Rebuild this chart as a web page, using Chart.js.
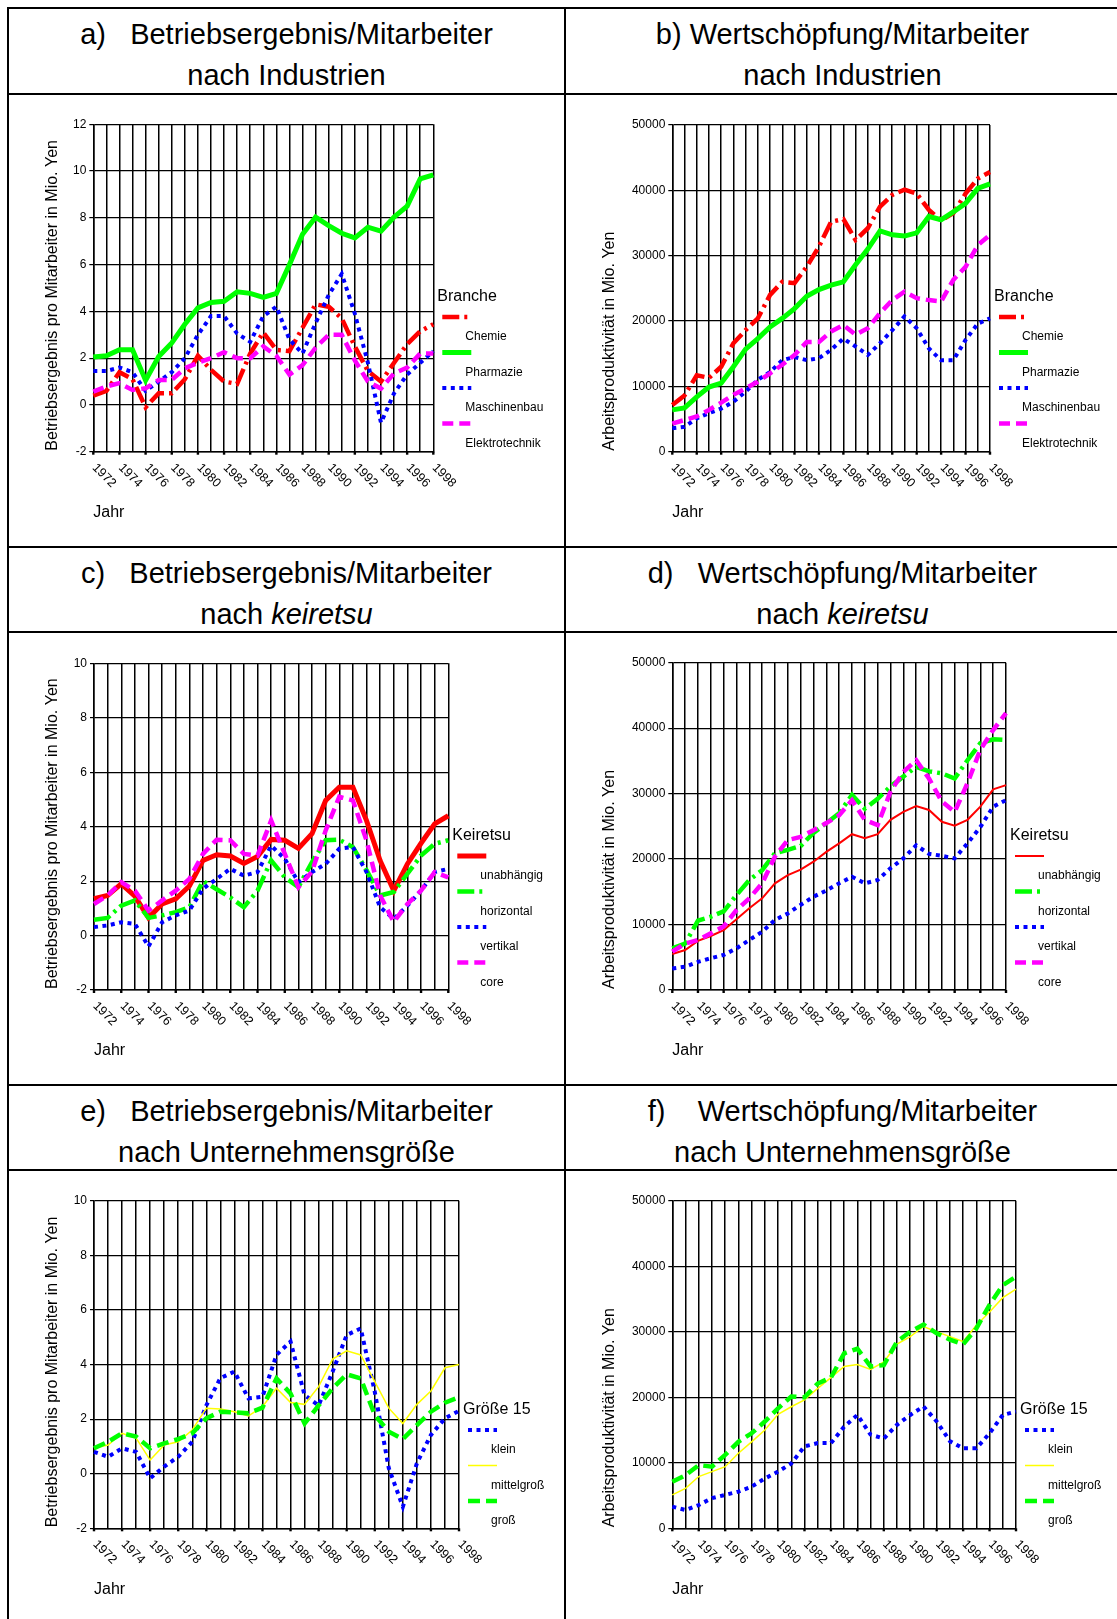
<!DOCTYPE html>
<html>
<head>
<meta charset="utf-8">
<script src="https://cdn.jsdelivr.net/npm/chart.js@4/dist/chart.umd.min.js"></script>
<style>
  body { margin: 0; background: #fff; }
  #page { position: relative; width: 1117px; height: 1619px; overflow: hidden; font-family: "Liberation Sans", Arial, sans-serif; color: #000; }
  .hl { position: absolute; left: 7px; width: 1115px; height: 2px; background: #000; }
  .vl { position: absolute; top: 7px; height: 1620px; width: 2px; background: #000; }
  .ttl { position: absolute; font-size: 29px; line-height: 34px; text-align: center; white-space: pre; transform: translateY(-50%); }
  canvas { position: absolute; }
</style>
</head>
<body>
<div id="page">
  <div class="hl" style="top:7px"></div>
  <div class="hl" style="top:93px"></div>
  <div class="hl" style="top:546px"></div>
  <div class="hl" style="top:631px"></div>
  <div class="hl" style="top:1084px"></div>
  <div class="hl" style="top:1169px"></div>
  <div class="vl" style="left:7px"></div>
  <div class="vl" style="left:564px"></div>

  <div class="ttl" style="left:8px;width:557px;top:34px">a)   Betriebsergebnis/Mitarbeiter</div>
  <div class="ttl" style="left:8px;width:557px;top:75px">nach Industrien</div>
  <div class="ttl" style="left:565px;width:555px;top:34px">b) Wertschöpfung/Mitarbeiter</div>
  <div class="ttl" style="left:565px;width:555px;top:75px">nach Industrien</div>

  <div class="ttl" style="left:8px;width:557px;top:573px">c)   Betriebsergebnis/Mitarbeiter</div>
  <div class="ttl" style="left:8px;width:557px;top:614px">nach <i>keiretsu</i></div>
  <div class="ttl" style="left:565px;width:555px;top:573px">d)   Wertschöpfung/Mitarbeiter</div>
  <div class="ttl" style="left:565px;width:555px;top:614px">nach <i>keiretsu</i></div>

  <div class="ttl" style="left:8px;width:557px;top:1111px">e)   Betriebsergebnis/Mitarbeiter</div>
  <div class="ttl" style="left:8px;width:557px;top:1152px">nach Unternehmensgröße</div>
  <div class="ttl" style="left:565px;width:555px;top:1111px">f)    Wertschöpfung/Mitarbeiter</div>
  <div class="ttl" style="left:565px;width:555px;top:1152px">nach Unternehmensgröße</div>
</div>

<script>
// ---------------- DATA ----------------
const years = ['1972', '1973', '1974', '1975', '1976', '1977', '1978', '1979', '1980', '1981',
  '1982', '1983', '1984', '1985', '1986', '1987', '1988', '1989', '1990', '1991',
  '1992', '1993', '1994', '1995', '1996', '1997', '1998'];

// a) Betriebsergebnis nach Industrien (Mio. Yen)
const chemieA = [0.4, 0.6, 1.4, 1.1, -0.1, 0.5, 0.5, 1.1, 2.1, 1.5, 1.0, 0.9, 2.2, 3.1, 2.35, 2.3, 3.3, 4.3, 4.2, 3.7, 2.5, 1.45, 1.0, 1.8, 2.6, 3.15, 3.45];
const pharmaA = [2.05, 2.1, 2.36, 2.36, 1.05, 2.07, 2.65, 3.45, 4.15, 4.38, 4.43, 4.84, 4.77, 4.6, 4.77, 6.0, 7.3, 8.03, 7.67, 7.34, 7.14, 7.6, 7.43, 8.03, 8.5, 9.67, 9.84];
const maschA = [1.45, 1.45, 1.6, 1.4, 0.6, 1.0, 1.4, 2.0, 3.0, 3.8, 3.8, 3.05, 2.7, 3.8, 4.2, 2.8, 2.2, 3.5, 4.7, 5.6, 3.9, 1.8, -0.76, 0.5, 1.3, 1.8, 2.3];
const elektroA = [0.57, 0.79, 0.93, 0.64, 0.71, 1.07, 1.07, 1.57, 1.8, 2.0, 2.25, 2.0, 2.0, 2.5, 2.1, 1.3, 1.7, 2.45, 3.0, 3.0, 1.9, 1.0, 0.7, 1.35, 1.6, 2.2, 2.2];

// b) Wertschöpfung nach Industrien
const chemieB = [7150, 8600, 11700, 11300, 13000, 16600, 18600, 20400, 24000, 26000, 25800, 28300, 31400, 35200, 35600, 32400, 34200, 37500, 39300, 40100, 39500, 37000, 35400, 36500, 39500, 41800, 42800];
const pharmaB = [6400, 6700, 8400, 9900, 10500, 13000, 15700, 17300, 19100, 20400, 21900, 23800, 24800, 25500, 26000, 28600, 31000, 33800, 33200, 33000, 33500, 36000, 35500, 36700, 38000, 40300, 41000];
const maschB = [3600, 3800, 5100, 5900, 6600, 7650, 9200, 11000, 12200, 14000, 14500, 14000, 14300, 15600, 17300, 16100, 14800, 16600, 18600, 20700, 18900, 15800, 14000, 14000, 17100, 19600, 20400];
const elektroB = [4300, 4850, 5400, 6400, 7500, 8700, 9700, 10700, 12000, 13300, 14800, 16800, 16800, 18400, 19400, 17900, 18900, 21200, 23200, 24500, 23500, 23200, 23000, 26300, 28300, 31600, 33200];

// c) Betriebsergebnis nach keiretsu
const unabC = [1.35, 1.47, 1.9, 1.45, 0.65, 1.16, 1.35, 1.82, 2.76, 2.97, 2.92, 2.65, 2.9, 3.53, 3.5, 3.2, 3.74, 4.96, 5.45, 5.45, 4.22, 2.75, 1.65, 2.63, 3.39, 4.1, 4.4];
const horizC = [0.58, 0.65, 1.1, 1.29, 0.65, 0.74, 0.86, 1.04, 2.0, 1.7, 1.4, 1.04, 1.65, 2.76, 2.14, 1.78, 2.7, 3.5, 3.52, 3.25, 2.4, 1.47, 1.6, 2.27, 2.94, 3.37, 3.5];
const vertC = [0.31, 0.37, 0.49, 0.43, -0.4, 0.49, 0.74, 0.92, 1.72, 2.08, 2.45, 2.2, 2.33, 3.3, 2.82, 1.96, 2.33, 2.63, 3.19, 3.25, 2.33, 1.04, 0.61, 1.1, 1.65, 2.33, 2.45];
const coreC = [1.16, 1.47, 1.96, 1.65, 0.92, 1.29, 1.65, 2.08, 3.0, 3.52, 3.5, 3.0, 2.94, 4.23, 3.0, 1.78, 2.35, 3.86, 5.1, 4.96, 3.49, 1.47, 0.5, 1.16, 1.65, 2.33, 2.14];

// d) Wertschöpfung nach keiretsu
const unabD = [5500, 6100, 7500, 8250, 9150, 10800, 12500, 14000, 16300, 17550, 18400, 19600, 21100, 22400, 23800, 23200, 23800, 26000, 27200, 28100, 27500, 25700, 25100, 26000, 28000, 30650, 31300];
const horizD = [6350, 7100, 10600, 11200, 12000, 14500, 16800, 18300, 20900, 21400, 22000, 24000, 25500, 27000, 29800, 27700, 29200, 31100, 32600, 34100, 33400, 33100, 32300, 35100, 37700, 38300, 38200];
const vertD = [3300, 3550, 4300, 4850, 5350, 6350, 7650, 8900, 10700, 11700, 13000, 14250, 15200, 16300, 17300, 16300, 16800, 18600, 20100, 22100, 20800, 20500, 20100, 22400, 24900, 28000, 29000];
const coreD = [5850, 7100, 7650, 8650, 9700, 12200, 14000, 16300, 20400, 22900, 23400, 24400, 25500, 26700, 29000, 26000, 25200, 30300, 33300, 35100, 32300, 28800, 27200, 31600, 36700, 39700, 42300];

// e) Betriebsergebnis nach Unternehmensgröße
const kleinE = [0.8, 0.62, 0.93, 0.8, -0.17, 0.26, 0.62, 1.17, 2.5, 3.5, 3.74, 2.76, 2.82, 4.35, 4.84, 2.88, 2.5, 3.74, 5.08, 5.32, 3.0, 0.2, -1.21, 0.38, 1.42, 2.03, 2.3];
const mittelE = [0.93, 1.05, 1.48, 1.3, 0.5, 1.05, 1.17, 1.6, 2.4, 2.37, 2.27, 2.12, 2.45, 3.13, 2.61, 2.54, 3.19, 4.2, 4.5, 4.35, 3.37, 2.4, 1.84, 2.54, 3.03, 3.88, 4.0];
const grossE = [0.93, 1.17, 1.48, 1.36, 0.93, 1.11, 1.27, 1.48, 2.03, 2.27, 2.25, 2.21, 2.42, 3.49, 2.94, 1.84, 2.5, 3.13, 3.64, 3.49, 2.15, 1.54, 1.27, 1.78, 2.27, 2.6, 2.8];

// f) Wertschöpfung nach Unternehmensgröße
const kleinF = [3300, 2800, 3550, 4600, 5100, 5600, 6350, 7600, 8650, 9900, 12500, 13000, 13000, 15500, 17300, 14300, 13700, 15800, 17300, 18600, 16300, 13300, 12200, 12200, 14500, 17300, 17800];
const mittelF = [5100, 6100, 7900, 8650, 9400, 11450, 13200, 15000, 17400, 18550, 19600, 21350, 23000, 24700, 25000, 24250, 25400, 28100, 29250, 30800, 30000, 29250, 28500, 31000, 33000, 35200, 36500];
const grossF = [7100, 8100, 9650, 9400, 11200, 13200, 14500, 16300, 18300, 20100, 20000, 22100, 23000, 26700, 27400, 24700, 24900, 28500, 30000, 31100, 29750, 28800, 28100, 30500, 34100, 37100, 38400];

// ---------------- STYLES ----------------
const FONT = '"Liberation Sans", Arial, sans-serif';
const dashDot = [17, 5, 3, 5];
const dotted = [4, 4.5];
const dashed = [11, 6];

const ytBetrieb = 'Betriebsergebnis pro Mitarbeiter in Mio. Yen';
const ytWert = 'Arbeitsproduktivität in Mio. Yen';

const panels = [
  { cell: { x: 10, y: 96, w: 553, h: 449 }, plot: { l: 93.3, t: 124.3, r: 433.3, b: 451.7 },
    min: -2, max: 12, step: 2, yTitle: ytBetrieb, titleX: 53, legendTitle: 'Branche', legendY: 297,
    series: [
      { label: 'Chemie', data: chemieA, color: '#ff0000', width: 4.5, dash: dashDot },
      { label: 'Pharmazie', data: pharmaA, color: '#00ff00', width: 5, dash: [] },
      { label: 'Maschinenbau', data: maschA, color: '#0000ff', width: 4, dash: dotted },
      { label: 'Elektrotechnik', data: elektroA, color: '#ff00ff', width: 4.5, dash: dashed }
    ] },
  { cell: { x: 567, y: 96, w: 550, h: 449 }, plot: { l: 672.3, t: 125, r: 990, b: 451.7 },
    min: 0, max: 50000, step: 10000, yTitle: ytWert, titleX: 610, legendTitle: 'Branche', legendY: 297,
    series: [
      { label: 'Chemie', data: chemieB, color: '#ff0000', width: 4.5, dash: dashDot },
      { label: 'Pharmazie', data: pharmaB, color: '#00ff00', width: 5, dash: [] },
      { label: 'Maschinenbau', data: maschB, color: '#0000ff', width: 4, dash: dotted },
      { label: 'Elektrotechnik', data: elektroB, color: '#ff00ff', width: 4.5, dash: dashed }
    ] },
  { cell: { x: 10, y: 634, w: 553, h: 449 }, plot: { l: 94, t: 663.3, r: 448.3, b: 990 },
    min: -2, max: 10, step: 2, yTitle: ytBetrieb, titleX: 53, legendTitle: 'Keiretsu', legendY: 836,
    series: [
      { label: 'unabhängig', data: unabC, color: '#ff0000', width: 5, dash: [] },
      { label: 'horizontal', data: horizC, color: '#00ff00', width: 4.5, dash: dashDot },
      { label: 'vertikal', data: vertC, color: '#0000ff', width: 4, dash: dotted },
      { label: 'core', data: coreC, color: '#ff00ff', width: 4.5, dash: dashed }
    ] },
  { cell: { x: 567, y: 634, w: 550, h: 449 }, plot: { l: 672.3, t: 662.7, r: 1006, b: 990 },
    min: 0, max: 50000, step: 10000, yTitle: ytWert, titleX: 610, legendTitle: 'Keiretsu', legendY: 836,
    series: [
      { label: 'unabhängig', data: unabD, color: '#ff0000', width: 2, dash: [] },
      { label: 'horizontal', data: horizD, color: '#00ff00', width: 4.5, dash: dashDot },
      { label: 'vertikal', data: vertD, color: '#0000ff', width: 4, dash: dotted },
      { label: 'core', data: coreD, color: '#ff00ff', width: 4.5, dash: dashed }
    ] },
  { cell: { x: 10, y: 1172, w: 553, h: 447 }, plot: { l: 94, t: 1200.7, r: 459, b: 1528.3 },
    min: -2, max: 10, step: 2, yTitle: ytBetrieb, titleX: 53, legendTitle: 'Größe 15', legendY: 1410,
    series: [
      { label: 'klein', data: kleinE, color: '#0000ff', width: 4, dash: dotted },
      { label: 'mittelgroß', data: mittelE, color: '#ffff00', width: 1.5, dash: [] },
      { label: 'groß', data: grossE, color: '#00ff00', width: 4.5, dash: [12, 6] }
    ] },
  { cell: { x: 567, y: 1172, w: 550, h: 447 }, plot: { l: 672.3, t: 1200.7, r: 1016, b: 1528.3 },
    min: 0, max: 50000, step: 10000, yTitle: ytWert, titleX: 610, legendTitle: 'Größe 15', legendY: 1410,
    series: [
      { label: 'klein', data: kleinF, color: '#0000ff', width: 4, dash: dotted },
      { label: 'mittelgroß', data: mittelF, color: '#ffff00', width: 1.5, dash: [] },
      { label: 'groß', data: grossF, color: '#00ff00', width: 4.5, dash: [12, 6] }
    ] }
];

// ---------------- DRAWING ----------------
// rotated year labels, axis titles and the legend, placed off the chart's scales
function decoPlugin(p) {
  return {
    id: 'deco',
    afterDraw(chart) {
      const ctx = chart.ctx;
      const a = chart.chartArea;
      const xs = chart.scales.x;
      ctx.save();
      ctx.fillStyle = '#000';

      ctx.font = '12.5px ' + FONT;
      years.forEach((yr, i) => {
        if (i % 2) return;
        const px = xs.getPixelForValue(i);
        ctx.fillRect(px - 1.2, a.bottom, 2.4, 3);
        ctx.save();
        ctx.translate(px + 1, a.bottom + 14);
        ctx.rotate(Math.PI / 4);
        ctx.textAlign = 'left';
        ctx.textBaseline = 'middle';
        ctx.fillText(yr, 0, 0);
        ctx.restore();
      });

      // y axis title, starting at the bottom of the plot
      ctx.font = '16px ' + FONT;
      ctx.save();
      ctx.translate(p.titleX - p.cell.x, a.bottom - 1);
      ctx.rotate(-Math.PI / 2);
      ctx.textAlign = 'left';
      ctx.textBaseline = 'middle';
      ctx.fillText(p.yTitle, 0, 0);
      ctx.restore();

      ctx.textAlign = 'left';
      ctx.textBaseline = 'middle';
      ctx.fillText('Jahr', a.left, a.bottom + 61);

      // legend
      const T = p.legendY - p.cell.y;
      ctx.fillText(p.legendTitle, a.right + 4, T);
      ctx.font = '12px ' + FONT;
      p.series.forEach((s, i) => {
        const y = T + 20 + 35.5 * i;
        ctx.save();
        ctx.strokeStyle = s.color;
        ctx.lineWidth = s.width;
        ctx.lineCap = 'butt';
        ctx.setLineDash(s.dash);
        ctx.beginPath();
        ctx.moveTo(a.right + 9, y);
        ctx.lineTo(a.right + 38, y);
        ctx.stroke();
        ctx.restore();
        ctx.fillText(s.label, a.right + 32, T + 40 + 35.5 * i);
      });
      ctx.restore();
    }
  };
}

function makeChart(p) {
  const cv = document.createElement('canvas');
  cv.width = p.cell.w;
  cv.height = p.cell.h;
  cv.style.left = p.cell.x + 'px';
  cv.style.top = p.cell.y + 'px';
  document.getElementById('page').appendChild(cv);

  const yW = p.plot.l - p.cell.x;
  new Chart(cv, {
    type: 'line',
    data: {
      labels: years,
      datasets: p.series.map((s, i) => ({
        label: s.label,
        data: s.data,
        borderColor: s.color,
        borderWidth: s.width,
        borderDash: s.dash,
        borderCapStyle: 'butt',
        pointRadius: 0,
        tension: 0,
        fill: false,
        order: 10 - i
      }))
    },
    options: {
      responsive: false,
      animation: false,
      layout: {
        padding: {
          left: 0,
          top: p.plot.t - p.cell.y,
          right: p.cell.x + p.cell.w - p.plot.r,
          bottom: p.cell.y + p.cell.h - p.plot.b
        }
      },
      plugins: { legend: { display: false }, tooltip: { enabled: false } },
      scales: {
        x: {
          offset: false,
          ticks: { display: false },
          grid: { color: '#000', lineWidth: 1.5, drawTicks: false },
          border: { color: '#000', width: 1.5 },
          afterFit: s => { s.height = 0; }
        },
        y: {
          min: p.min,
          max: p.max,
          ticks: { stepSize: p.step, color: '#000', padding: 3, font: { size: 12, family: FONT }, callback: v => String(v) },
          grid: { color: '#000', lineWidth: 1.2, tickLength: 4 },
          border: { color: '#000', width: 1.5 },
          afterFit: s => { s.width = yW; }
        }
      }
    },
    plugins: [decoPlugin(p)]
  });
}

panels.forEach(makeChart);
</script>
</body>
</html>
